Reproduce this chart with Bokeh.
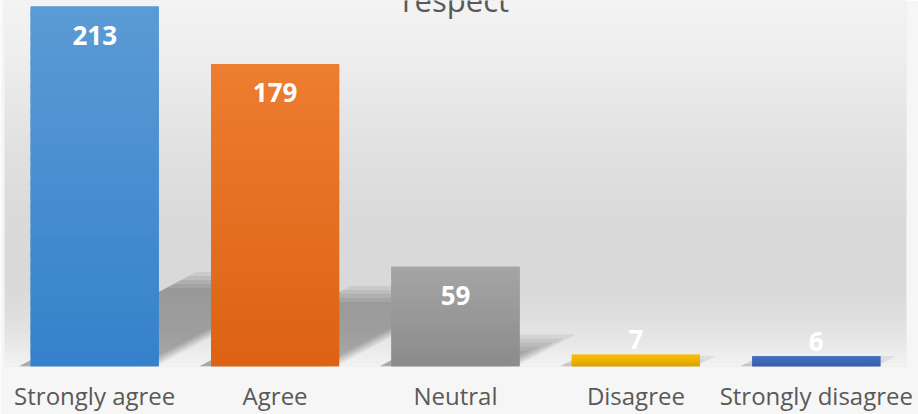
import numpy as np
from bokeh.plotting import figure
from bokeh.models import Range1d, FixedTicker, ColumnDataSource
from bokeh.core.properties import value
from bokeh.embed import file_html
from bokeh.resources import INLINE

# Survey answers for the "respect" item
categories = ["Strongly agree", "Agree", "Neutral", "Disagree", "Strongly disagree"]
counts = [213, 179, 59, 7, 6]
title_text = "respect"

# Each bar is filled with a vertical gradient: colour at the top -> colour at the base
top_colors = ["#5B9BD5", "#ED7D31", "#A5A5A5", "#FFC000", "#4472C4"]
base_colors = ["#3581CB", "#DD6213", "#8B8B8B", "#D6A000", "#3A5DA5"]

FONT = "Open Sans"
TEXT_GREY = "#595959"

W, H = 918, 414
BORDER_L, BORDER_R, BORDER_T, BORDER_B = 4, 12, 0, 47
Y_MAX = 216.5
BAR_W = 0.71
n = len(categories)

frame_w = W - BORDER_L - BORDER_R
frame_h = H - BORDER_T - BORDER_B
px_x = frame_w / n          # pixels per x unit
px_y = frame_h / Y_MAX      # pixels per y unit

p = figure(width=W, height=H, output_backend="svg", toolbar_location=None,
           x_range=Range1d(-0.5, n - 0.5), y_range=Range1d(0, Y_MAX),
           y_axis_location=None,
           min_border_left=BORDER_L, min_border_right=BORDER_R,
           min_border_top=BORDER_T, min_border_bottom=BORDER_B)
p.outline_line_color = None
p.xgrid.visible = False
p.ygrid.visible = False
p.border_fill_color = "#f6f6f6"
p.background_fill_color = "#e4e4e4"


def hex_rgb(h):
    h = h.lstrip("#")
    return np.array([int(h[i:i + 2], 16) for i in (0, 2, 4)], dtype=float)


def mix(c_from, c_to, t):
    a, b = hex_rgb(c_from), hex_rgb(c_to)
    r, g, bl = (a + (b - a) * t).round().astype(int)
    return "#%02x%02x%02x" % (r, g, bl)


# ---- soft grey backdrop (light at top and base, darker in the middle) ----
stops_px = np.array([0, 50, 100, 150, 200, 250, 290, 320, 340, 355, frame_h])
stops_grey = np.array([244, 239, 232, 225, 220, 217, 218, 224, 231, 238, 243])
rows = np.arange(frame_h)[::-1]            # image row 0 is the bottom
grey = np.interp(rows, stops_px, stops_grey).astype(np.uint32)
img = np.empty((frame_h, 2), dtype=np.uint32)
col = (255 << 24) | (grey << 16) | (grey << 8) | grey
img[:, 0] = col
img[:, 1] = col
p.image_rgba(image=[img], x=-0.5, y=0, dw=n, dh=Y_MAX)

# ---- perspective shadows cast behind the bars (layered for a soft edge) ----
shadow_xs, shadow_ys = [], []
for i, v in enumerate(counts):
    hpx = v * px_y
    sh = 0.24 * hpx          # shadow height, px
    sk = 0.45 * hpx          # sideways lean, px
    shift = -12.0            # px
    for e in (-8, -4, 0, 4, 8):
        yt = sh - e
        if yt <= 1:
            continue
        lean = sk * yt / sh
        x0 = i - BAR_W / 2 + shift / px_x
        x1 = i + BAR_W / 2 + (shift - e) / px_x
        shadow_xs.append([x0, x1, x1 + lean / px_x, x0 + lean / px_x])
        shadow_ys.append([0, 0, yt / px_y, yt / px_y])
p.patches(xs=shadow_xs, ys=shadow_ys, fill_color="black", fill_alpha=0.065,
          line_color=None)

# ---- gradient bars: a solid body, then thin stacked slices on top ----
mid_colors = [mix(base_colors[i], top_colors[i], 0.5) for i in range(n)]
p.quad(left=[i - BAR_W / 2 for i in range(n)], right=[i + BAR_W / 2 for i in range(n)],
       bottom=[0] * n, top=counts, fill_color=mid_colors, line_color=None)

N = 30
left, right, bottom, top, colors = [], [], [], [], []
for i, v in enumerate(counts):
    for k in range(N):
        b = v * k / N
        t = v * (k + 1) / N
        if k < N - 1:
            t += v * 0.6 / N
        left.append(i - BAR_W / 2)
        right.append(i + BAR_W / 2)
        bottom.append(b)
        top.append(t)
        colors.append(mix(base_colors[i], top_colors[i], (k + 0.5) / N))
p.quad(source=ColumnDataSource(dict(left=left, right=right, bottom=bottom,
                                    top=top, color=colors)),
       left="left", right="right", bottom="bottom", top="top",
       fill_color="color", line_color=None)

# ---- value labels: inside the top of tall bars, just above short ones ----
label_y = []
for v in counts:
    if v * px_y > 40:
        label_y.append(v - 29 / px_y)
    else:
        label_y.append(v + 15 / px_y)
p.text(x=list(range(n)), y=label_y, text=[str(v) for v in counts],
       text_align="center", text_baseline="middle", text_color="white",
       text_font=value(FONT), text_font_style="bold", text_font_size="26px")

# ---- chart title, sitting right at the top edge ----
p.text(x=[(n - 1) / 2], y=[Y_MAX + 1 / px_y], text=[title_text],
       text_align="center", text_baseline="alphabetic", text_color=TEXT_GREY,
       text_font=value(FONT), text_font_size="31px")

# ---- category axis ----
ax = p.xaxis[0]
ax.ticker = FixedTicker(ticks=list(range(n)))
ax.major_label_overrides = {i: c for i, c in enumerate(categories)}
ax.axis_line_color = None
ax.major_tick_line_color = None
ax.minor_tick_line_color = None
ax.major_tick_out = 0
ax.major_tick_in = 0
ax.major_label_standoff = 12
ax.major_label_text_font = FONT
ax.major_label_text_font_size = "24px"
ax.major_label_text_color = TEXT_GREY

open("out.html", "w").write(file_html(p, INLINE))
